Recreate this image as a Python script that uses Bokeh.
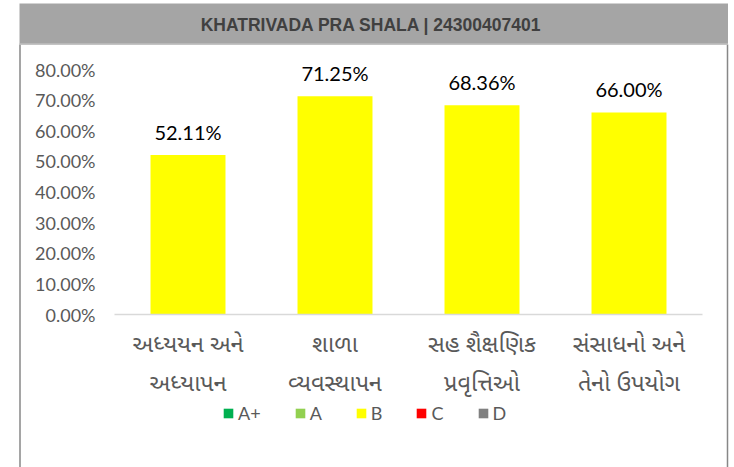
from bokeh.plotting import figure
from bokeh.models import (ColumnDataSource, FixedTicker, PrintfTickFormatter,
                          LabelSet, Legend, LegendItem, Range1d)
from bokeh.core.properties import value
from bokeh.embed import file_html
from bokeh.resources import INLINE

# ---------------- data ----------------
title_text = "KHATRIVADA PRA SHALA | 24300407401"
categories = ["અધ્યયન અને\nઅધ્યાપન", "શાળા\nવ્યવસ્થાપન",
              "સહ શૈક્ષણિક\nપ્રવૃત્તિઓ", "સંસાધનો અને\nતેનો ઉપયોગ"]
values = [52.11, 71.25, 68.36, 66.00]
y_ticks = [0, 10, 20, 30, 40, 50, 60, 70, 80]
grades = ["A+", "A", "B", "C", "D"]
grade_colors = ["#00B050", "#92D050", "#FFFF00", "#FF0000", "#808080"]
bar_grade = "B"

# ---------------- layout (canvas pixels) ----------------
W, H = 734, 467
PL, PR, PT, PB = 114, 702, 69, 314      # plot area edges
YMAX = 80
ncat = len(categories)
px_per_cat = (PR - PL) / ncat
px_per_y = (PB - PT) / YMAX
x0_px = PL + px_per_cat / 2            # pixel of category index 0

def dx(px):   # canvas x pixel -> data x
    return (px - x0_px) / px_per_cat

def dy(py):   # canvas y pixel -> data y
    return (PB - py) / px_per_y

p = figure(width=W, height=H, output_backend="svg", toolbar_location=None,
           x_range=Range1d(dx(0), dx(W)), y_range=Range1d(dy(H), dy(0)),
           min_border=0, min_border_left=0, min_border_right=0,
           min_border_top=0, min_border_bottom=0)
p.outline_line_color = None
p.background_fill_color = "white"
p.border_fill_color = "white"
p.xgrid.visible = False
p.ygrid.visible = False

# chart-area side borders
p.segment(x0=[dx(19.5), dx(727)], y0=[dy(44), dy(44)],
          x1=[dx(19.5), dx(727)], y1=[dy(H + 2), dy(H + 2)],
          line_color="#878787", line_width=1.5)
# title bar
p.quad(left=[dx(19)], right=[dx(727.5)], top=[dy(3)], bottom=[dy(44)],
       fill_color="#A5A5A5", line_color=None)
p.segment(x0=[dx(19)], y0=[dy(43.5)], x1=[dx(727.5)], y1=[dy(43.5)],
          line_color="#BFBFBF", line_width=1.5)
p.text(x=[dx(371)], y=[dy(24)], text=[title_text], text_align="center",
       text_baseline="middle", text_font=value("Liberation Sans"),
       text_font_style="bold", text_font_size="17.5px", text_color="#404040")

# bars
xs = list(range(ncat))
src = ColumnDataSource(dict(x=xs, val=values, lab=[f"{v:.2f}%" for v in values]))
bar_color = grade_colors[grades.index(bar_grade)]
p.vbar(x="x", top="val", width=0.51, source=src, fill_color=bar_color, line_color=None)

# category baseline
p.segment(x0=[-0.5], y0=[0], x1=[ncat - 0.5], y1=[0], line_color="#D9D9D9", line_width=1.5)

p.add_layout(LabelSet(x="x", y="val", text="lab", source=src, y_offset=15,
                      text_align="center", text_baseline="alphabetic",
                      text_font=value("Lato"), text_font_size=value("20px"),
                      text_color=value("#000000")))

# y axis, fixed at the left edge of the plot area
ya = p.yaxis[0]
ya.fixed_location = -0.5
ya.ticker = FixedTicker(ticks=y_ticks)
ya.formatter = PrintfTickFormatter(format="%.2f%%")
ya.axis_line_color = None
ya.major_tick_line_color = None
ya.minor_tick_line_color = None
ya.major_tick_out = 0
ya.major_label_standoff = 19
ya.major_label_text_font = "Lato"
ya.major_label_text_font_size = "18px"
ya.major_label_text_color = "#595959"

# x axis, fixed at zero
xa = p.xaxis[0]
xa.fixed_location = 0
xa.ticker = FixedTicker(ticks=xs)
xa.major_label_overrides = {i: c for i, c in zip(xs, categories)}
xa.axis_line_color = None
xa.major_tick_line_color = None
xa.minor_tick_line_color = None
xa.major_tick_out = 0
xa.major_label_standoff = 16
xa.major_label_text_font = "Noto Sans Gujarati, Noto Sans"
xa.major_label_text_font_size = "23.5px"
xa.major_label_text_color = "#595959"
xa.major_label_text_line_height = 1.28

# legend (each grade renderer holds one zero-height point placed off the canvas)
items = []
for g, c in zip(grades, grade_colors):
    r = p.vbar(x=[dx(-800)], top=[0], bottom=[0], width=0.1,
               fill_color=c, line_color=None)
    items.append(LegendItem(label=g, renderers=[r]))
legend = Legend(items=items, orientation="horizontal", location=(222, H - 424),
                glyph_width=12, glyph_height=12, label_standoff=4, spacing=33,
                label_width=0, padding=0, margin=0, border_line_color=None,
                background_fill_alpha=0,
                label_text_font="Lato", label_text_font_size="18px",
                label_text_color="#595959")
p.add_layout(legend, "center")

open("out.html", "w").write(file_html(p, INLINE))
